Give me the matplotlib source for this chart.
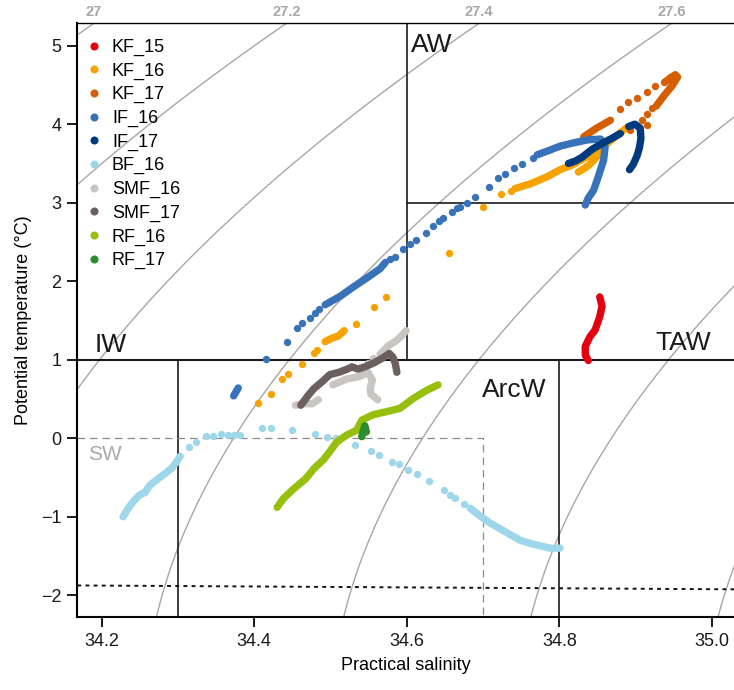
import numpy as np
import matplotlib
matplotlib.use('Agg')
import matplotlib.pyplot as plt
from matplotlib.lines import Line2D

nan = np.nan

# series names and colours (legend order)
names = ['KF_15', 'KF_16', 'KF_17', 'IF_16', 'IF_17',
         'BF_16', 'SMF_16', 'SMF_17', 'RF_16', 'RF_17']
colors = ['#E3000F', '#F6A300', '#D55F00', '#3872B8', '#003A7E',
          '#9FD7EA', '#C9C5C2', '#6B605E', '#97BF0D', '#2C8D2F']

# dense profiles (NaN separates pieces) and single scattered samples
kf15_track_s = [34.853, 34.856, 34.853, 34.847, 34.840, 34.834, 34.834, 34.838]
kf15_track_t = [1.80, 1.68, 1.55, 1.38, 1.29, 1.17, 1.06, 0.99]

kf16_track_s = [34.493, 34.503, 34.510, 34.518, nan,
                34.742, 34.762, 34.784, 34.801, 34.817, 34.837, 34.858, 34.876, 34.889, nan,
                34.825, 34.838, 34.848, 34.856]
kf16_track_t = [1.23, 1.28, 1.30, 1.37, nan,
                3.18, 3.24, 3.33, 3.42, 3.48, 3.59, 3.72, 3.86, 3.96, nan,
                3.39, 3.47, 3.57, 3.67]
kf16_dots_s = [34.405, 34.422, 34.436, 34.444, 34.462, 34.478, 34.482, 34.534,
               34.557, 34.573, 34.655, 34.700, 34.724, 34.736]
kf16_dots_t = [0.45, 0.56, 0.75, 0.82, 0.95, 1.08, 1.13, 1.46,
               1.67, 1.80, 2.36, 2.94, 3.11, 3.15]

kf17_track_s = [34.832, 34.849, 34.867, nan, 34.939, 34.952, 34.955, 34.948, 34.937, 34.927]
kf17_track_t = [3.84, 3.95, 4.05, nan, 4.54, 4.63, 4.60, 4.49, 4.36, 4.23]
kf17_dots_s = [34.880, 34.890, 34.902, 34.915, 34.926, 34.937, 34.945,
               34.921, 34.915, 34.908, 34.915, 34.906, 34.893]
kf17_dots_t = [4.19, 4.28, 4.33, 4.41, 4.49, 4.54, 4.60,
               4.20, 4.13, 4.05, 3.99, 3.93, 3.93]

if16_track_s = [34.373, 34.376, 34.379, nan,
                34.493, 34.513, 34.532, 34.549, 34.565, 34.572, nan,
                34.771, 34.785, 34.801, 34.818, 34.837, 34.854, 34.860, 34.858,
                34.851, 34.845, 34.838, 34.834]
if16_track_t = [0.54, 0.59, 0.64, nan,
                1.70, 1.81, 1.94, 2.05, 2.16, 2.24, nan,
                3.61, 3.66, 3.72, 3.76, 3.80, 3.81, 3.71, 3.54,
                3.33, 3.16, 3.06, 2.97]
if16_dots_s = [34.416, 34.443, 34.456, 34.463, 34.473, 34.480, 34.485, 34.578,
               34.585, 34.595, 34.604, 34.612, 34.625, 34.635, 34.642, 34.647,
               34.659, 34.666, 34.670, 34.679, 34.690, 34.708, 34.719, 34.729,
               34.740, 34.751, 34.765]
if16_dots_t = [1.01, 1.23, 1.41, 1.47, 1.53, 1.60, 1.64, 2.28,
               2.31, 2.41, 2.48, 2.52, 2.62, 2.70, 2.77, 2.81,
               2.88, 2.93, 2.95, 3.00, 3.07, 3.20, 3.31, 3.37,
               3.44, 3.49, 3.57]

if17_track_s = [34.812, 34.821, 34.830, 34.843, 34.859, 34.869, 34.880, nan,
                34.891, 34.899, 34.906, 34.907, 34.905, 34.902, 34.897, 34.892]
if17_track_t = [3.50, 3.53, 3.58, 3.68, 3.77, 3.82, 3.88, nan,
                3.97, 4.00, 3.95, 3.82, 3.70, 3.60, 3.49, 3.42]

bf16_track_s = [34.228, 34.235, 34.241, 34.250, 34.257, 34.263, 34.272, 34.283,
                34.292, 34.298, 34.303, nan,
                34.683, 34.696, 34.709, 34.722, 34.736, 34.749, 34.762, 34.775,
                34.788, 34.801]
bf16_track_t = [-1.00, -0.89, -0.81, -0.72, -0.69, -0.60, -0.53, -0.45,
                -0.38, -0.30, -0.23, nan,
                -0.89, -0.99, -1.08, -1.15, -1.23, -1.30, -1.34, -1.37,
                -1.40, -1.40]
bf16_dots_s = [34.314, 34.324, 34.337, 34.346, 34.356, 34.366, 34.373, 34.381,
               34.410, 34.422, 34.449, 34.480, 34.495, 34.507, 34.532, 34.553,
               34.563, 34.580, 34.590, 34.602, 34.613, 34.629, 34.649, 34.657,
               34.663, 34.675]
bf16_dots_t = [-0.11, -0.05, 0.03, 0.03, 0.06, 0.04, 0.04, 0.04,
               0.13, 0.13, 0.10, 0.06, 0.02, 0.00, -0.09, -0.16,
               -0.21, -0.30, -0.33, -0.41, -0.46, -0.55, -0.66, -0.72,
               -0.76, -0.84]

smf16_track_s = [34.565, 34.576, 34.586, 34.593, 34.599, nan,
                 34.503, 34.520, 34.539, 34.549, 34.555, 34.552, 34.553, 34.562, nan,
                 34.454, 34.464, 34.476, 34.484]
smf16_track_t = [1.07, 1.18, 1.24, 1.30, 1.37, nan,
                 0.68, 0.75, 0.79, 0.84, 0.74, 0.64, 0.56, 0.49, nan,
                 0.42, 0.44, 0.44, 0.49]
smf16_dots_s = [34.549, 34.556]
smf16_dots_t = [0.96, 1.02]

smf17_track_s = [34.461, 34.471, 34.478, 34.489, 34.499, 34.511, 34.522, 34.528,
                 34.536, 34.545, 34.557, 34.568, 34.577, 34.582, 34.585, 34.587]
smf17_track_t = [0.42, 0.55, 0.63, 0.72, 0.81, 0.84, 0.88, 0.91,
                 0.88, 0.91, 0.96, 1.02, 1.08, 1.03, 0.95, 0.84]

rf16_track_s = [34.430, 34.438, 34.451, 34.467, 34.478, 34.491, 34.499, 34.508,
                34.521, 34.534, 34.541, 34.556, 34.574, 34.591, 34.609, 34.626, 34.641]
rf16_track_t = [-0.88, -0.77, -0.65, -0.52, -0.39, -0.27, -0.17, -0.05,
                0.04, 0.10, 0.23, 0.30, 0.34, 0.38, 0.51, 0.61, 0.68]

rf17_track_s = [34.541, 34.543, 34.545, 34.547]
rf17_track_t = [0.02, 0.10, 0.16, 0.08]

tracks = [(kf15_track_s, kf15_track_t), (kf16_track_s, kf16_track_t),
          (kf17_track_s, kf17_track_t), (if16_track_s, if16_track_t),
          (if17_track_s, if17_track_t), (bf16_track_s, bf16_track_t),
          (smf16_track_s, smf16_track_t), (smf17_track_s, smf17_track_t),
          (rf16_track_s, rf16_track_t), (rf17_track_s, rf17_track_t)]
dots = [None, (kf16_dots_s, kf16_dots_t), (kf17_dots_s, kf17_dots_t),
        (if16_dots_s, if16_dots_t), None, (bf16_dots_s, bf16_dots_t),
        (smf16_dots_s, smf16_dots_t), None, None, None]

# water mass boundaries
sw_t, sw_s = 0.0, 34.7
iw_s, arcw_s, aw_s = 34.3, 34.8, 34.6
t_split, t_aw = 1.0, 3.0

x_ticks = [34.2, 34.4, 34.6, 34.8, 35.0]
y_ticks = [-2, -1, 0, 1, 2, 3, 4, 5]
sigma_levels = np.arange(26.8, 28.41, 0.2)
sigma_labels = [27.0, 27.2, 27.4, 27.6]

xlim = (34.168, 35.029)
ylim = (-2.28, 5.285)


def sigma0(S, T):
    # UNESCO EOS-80 at surface pressure
    rw = (999.842594 + 6.793952e-2 * T - 9.095290e-3 * T**2 + 1.001685e-4 * T**3
          - 1.120083e-6 * T**4 + 6.536332e-9 * T**5)
    A = 8.24493e-1 - 4.0899e-3 * T + 7.6438e-5 * T**2 - 8.2467e-7 * T**3 + 5.3875e-9 * T**4
    B = -5.72466e-3 + 1.0227e-4 * T - 1.6546e-6 * T**2
    C = 4.8314e-4
    return rw + A * S + B * S**1.5 + C * S**2 - 1000.0


def t_freeze(S):
    return -0.0575 * S + 1.710523e-3 * S**1.5 - 2.154996e-4 * S**2


plt.rcParams['font.family'] = ['Liberation Sans', 'DejaVu Sans']

fig = plt.figure(figsize=(7.34, 6.9), dpi=100)
ax = fig.add_axes([0.1053, 0.1054, 0.8947, 0.8609])

# isopycnals
ss, tt = np.meshgrid(np.linspace(34.0, 35.2, 300), np.linspace(-2.6, 5.6, 300))
ax.contour(ss, tt, sigma0(ss, tt), levels=sigma_levels, colors='#aaa6a4',
           linewidths=1.0, zorder=1)
s_fine = np.linspace(34.0, 35.2, 2000)
sig_top = sigma0(s_fine, ylim[1])
for lev in sigma_labels:
    s_at = np.interp(lev, sig_top, s_fine)
    ax.annotate('{:g}'.format(lev), xy=(s_at, ylim[1]), xytext=(0, 3),
                textcoords='offset points', ha='center', va='bottom',
                fontsize=10.5, fontweight='bold', color='#aaa6a5',
                annotation_clip=False)

# water mass boxes
kw = dict(color='#1a1a1a', lw=1.2, zorder=2)
ax.plot(xlim, [t_split, t_split], color='#1a1a1a', lw=1.5, zorder=2)
ax.plot([aw_s, aw_s], [t_split, ylim[1]], **kw)
ax.plot([aw_s, xlim[1]], [t_aw, t_aw], **kw)
ax.plot([iw_s, iw_s], [ylim[0], t_split], **kw)
ax.plot([arcw_s, arcw_s], [ylim[0], t_split], **kw)
ax.plot([xlim[0], sw_s, sw_s], [sw_t, sw_t, ylim[0]], color='#8a8a8a', lw=0.9,
        dashes=(6, 4), zorder=2)

# freezing line
s_line = np.linspace(xlim[0], xlim[1], 50)
ax.plot(s_line, t_freeze(s_line), color='#111111', lw=1.4, dashes=(2, 2.2), zorder=2)

# data
for (ts, tt_), dd, c in zip(tracks, dots, colors):
    ax.plot(ts, tt_, color=c, lw=5.3, solid_capstyle='round',
            solid_joinstyle='round', zorder=3)
    if dd is not None:
        ax.scatter(dd[0], dd[1], s=28, color=c, linewidths=0, zorder=3)

# region labels
ax.text(34.6056, 4.916, 'AW', fontsize=19, color='#1a1a1a', va='baseline')
ax.text(34.191, 1.10, 'IW', fontsize=19, color='#1a1a1a', va='baseline')
ax.text(34.9257, 1.124, 'TAW', fontsize=19, color='#1a1a1a', va='baseline')
ax.text(34.6984, 0.528, 'ArcW', fontsize=19, color='#1a1a1a', va='baseline')
ax.text(34.1824, -0.278, 'SW', fontsize=15, color='#a9a9a9', va='baseline')

handles = [Line2D([], [], ls='none', marker='o', ms=5.8, mfc=c, mec='none')
           for c in colors]
ax.legend(handles, names, loc='upper left', bbox_to_anchor=(-0.005, 0.995),
          frameon=False, fontsize=13, handlelength=0.8, handletextpad=0.6,
          labelspacing=0.36, borderaxespad=0.3)

ax.set_xlim(*xlim)
ax.set_ylim(*ylim)
ax.set_xticks(x_ticks)
ax.set_xticklabels(['{:.1f}'.format(v) for v in x_ticks])
ax.set_yticks(y_ticks)
ax.tick_params(direction='out', length=7.5, width=1.4, labelsize=13, pad=4,
               colors='#1a1a1a')
for side in ['left', 'bottom']:
    ax.spines[side].set_linewidth(1.5)
ax.spines['top'].set_linewidth(1.0)
ax.spines['right'].set_visible(False)
ax.set_xlabel('Practical salinity', fontsize=13, labelpad=5)
ax.set_ylabel('Potential temperature (°C)', fontsize=13, labelpad=6)

fig.savefig('out.png', dpi=100)
